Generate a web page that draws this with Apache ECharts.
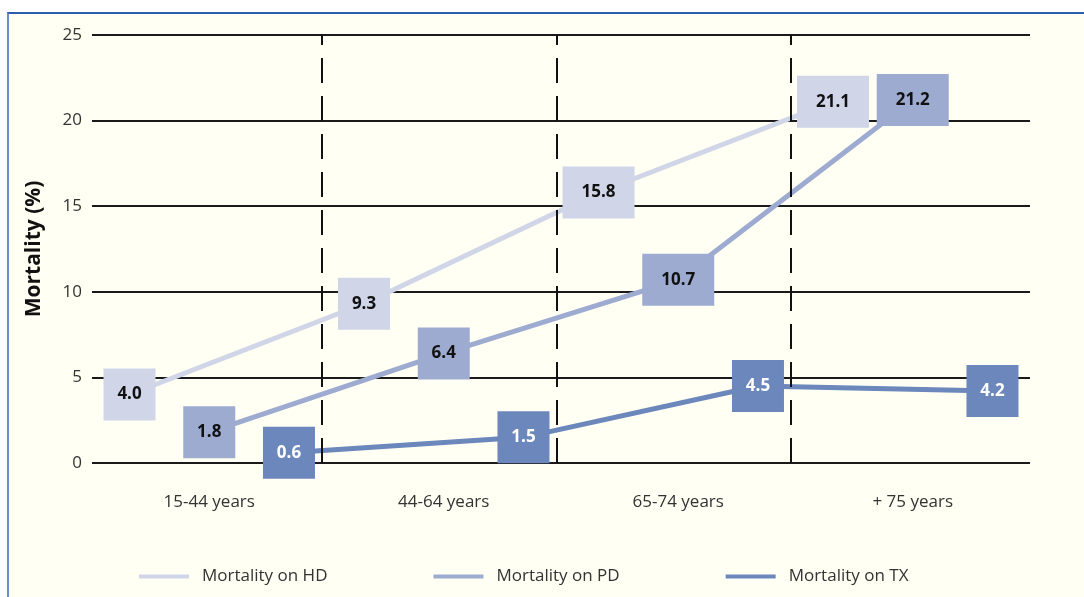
<!DOCTYPE html>
<html>
<head>
<meta charset="utf-8">
<title>Mortality by age group</title>
<script src="https://cdn.jsdelivr.net/npm/echarts@6/dist/echarts.min.js"></script>
<style>
  html, body { margin: 0; padding: 0; background: #ffffff; }
  #frame {
    position: absolute; left: 7px; top: 12px; right: 0; bottom: 0;
    background: #fffff4;
    border-top: 2px solid #2c5eb0;
    border-left: 2px solid #6a8cc8;
  }
  #chart { position: absolute; left: 0; top: 0; width: 1084px; height: 597px; }
</style>
</head>
<body>
<div id="frame"></div>
<div id="chart"></div>
<script>
// Age groups along the x axis
const ageGroups = ['15-44 years', '44-64 years', '65-74 years', '+ 75 years'];

// Mortality (%) per age group
const mortalityHD = [4.0, 9.3, 15.8, 21.1];
const mortalityPD = [1.8, 6.4, 10.7, 21.2];
const mortalityTX = [0.6, 1.5, 4.5, 4.2];

const seriesNames = ['Mortality on HD', 'Mortality on PD', 'Mortality on TX'];
const seriesColors = ['#d0d5e8', '#9eabd0', '#6b87bb'];
const labelColors = ['#111111', '#111111', '#ffffff'];

// Each series sits at its own slot inside an age group
const SLOT_SHIFT = 0.34;
const FONT = '"Open Sans", "Noto Sans", sans-serif';

function buildSeries(values, idx) {
  return {
    name: seriesNames[idx],
    type: 'line',
    xAxisIndex: 0,
    yAxisIndex: 0,
    z: 2,
    color: seriesColors[idx],
    lineStyle: { width: 5, color: seriesColors[idx] },
    itemStyle: { color: seriesColors[idx] },
    symbol: 'rect',
    showAllSymbol: true,
    emphasis: { disabled: true },
    animation: false,
    data: values.map((v, i) => ({
      value: [i + 0.5 + (idx - 1) * SLOT_SHIFT, v],
      symbolSize: [v.toFixed(1).length > 3 ? 72 : 52, 52]
    })),
    label: {
      show: true,
      position: 'inside',
      formatter: p => p.value[1].toFixed(1),
      color: labelColors[idx],
      fontFamily: FONT,
      fontWeight: 'bold',
      fontSize: 17
    }
  };
}

const chart = echarts.init(document.getElementById('chart'), null, { renderer: 'canvas' });

chart.setOption({
  backgroundColor: 'transparent',
  animation: false,
  grid: { left: 92, right: 54, top: 35, bottom: 134 },
  xAxis: [
    {
      type: 'value', min: 0, max: ageGroups.length, show: false
    },
    {
      type: 'category', data: ageGroups, position: 'bottom',
      boundaryGap: true,
      axisLine: { show: false }, axisTick: { show: false },
      splitLine: { show: false },
      axisLabel: { color: '#333333', fontSize: 17, fontFamily: FONT, margin: 31 }
    }
  ],
  yAxis: {
    type: 'value', min: 0, max: 25, interval: 5,
    name: 'Mortality (%)', nameLocation: 'middle', nameGap: 47,
    nameTextStyle: { color: '#111111', fontSize: 21, fontWeight: 'bold', fontFamily: FONT },
    axisLine: { show: false }, axisTick: { show: false },
    axisLabel: { color: '#333333', fontSize: 17, fontFamily: FONT, margin: 10 },
    splitLine: { lineStyle: { color: '#1a1a1a', width: 2 } }
  },
  legend: {
    left: 139, top: 568, padding: 0,
    itemWidth: 50, itemHeight: 4, itemGap: 106,
    icon: 'rect',
    data: seriesNames,
    textStyle: { color: '#333333', fontSize: 17, fontFamily: FONT, padding: [0, 0, 0, 8] }
  },
  series: [
    buildSeries(mortalityHD, 0),
    buildSeries(mortalityPD, 1),
    buildSeries(mortalityTX, 2),
    {
      // dashed dividers between age groups
      type: 'line', data: [], z: 3, silent: true,
      markLine: {
        silent: true, symbol: 'none', animation: false,
        label: { show: false },
        lineStyle: { color: '#111111', width: 2, type: [25, 13] },
        data: ageGroups.slice(1).map((_, i) => ({ xAxis: i + 1 - 0.02 }))
      }
    }
  ]
});
</script>
</body>
</html>
